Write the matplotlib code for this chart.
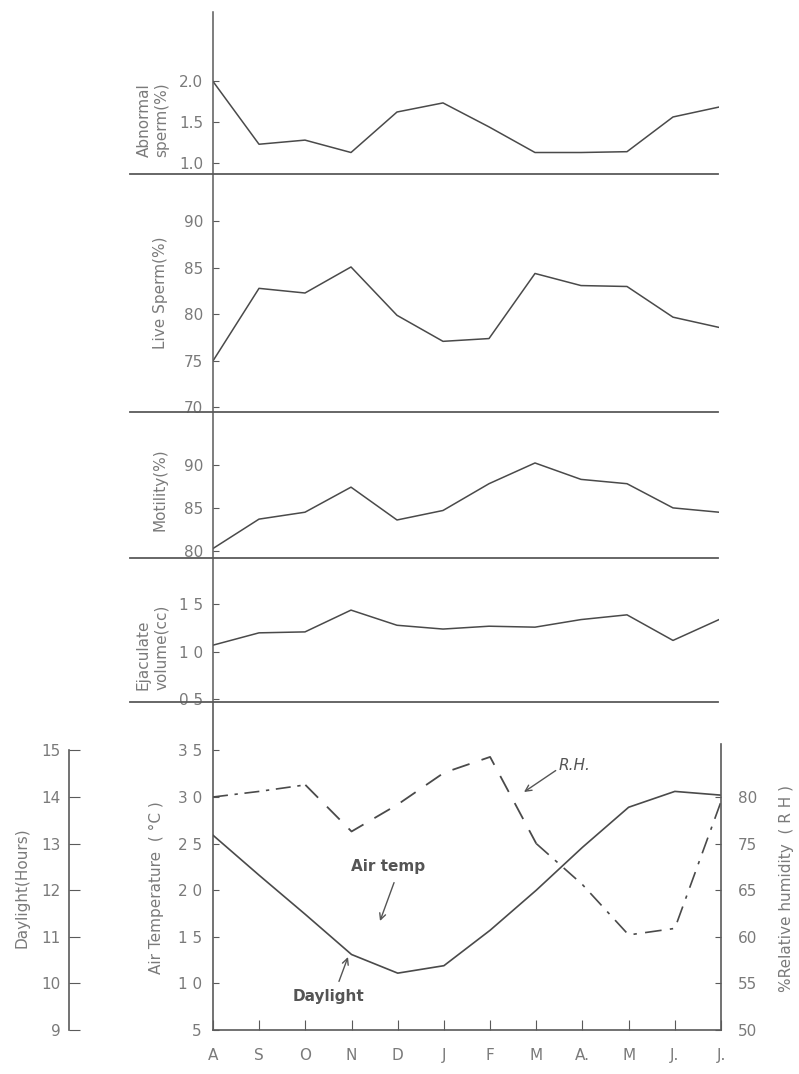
import matplotlib
matplotlib.use('Agg')
import matplotlib.pyplot as plt

# ---------------- data ----------------
months = ['A', 'S', 'O', 'N', 'D', 'J', 'F', 'M', 'A.', 'M', 'J.', 'J.']
abnormal_sperm = [1.99, 1.23, 1.28, 1.13, 1.62, 1.73, 1.44, 1.13, 1.13, 1.14, 1.56, 1.68]
live_sperm = [75.0, 82.8, 82.3, 85.1, 79.9, 77.1, 77.4, 84.4, 83.1, 83.0, 79.7, 78.6]
motility = [80.3, 83.7, 84.5, 87.4, 83.6, 84.7, 87.8, 90.2, 88.3, 87.8, 85.0, 84.5]
ejaculate_volume = [1.07, 1.20, 1.21, 1.44, 1.28, 1.24, 1.27, 1.26, 1.34, 1.39, 1.12, 1.34]
daylight_hours = [13.18, 12.32, 11.48, 10.62, 10.22, 10.38, 11.14, 12.0, 12.92, 13.78, 14.12, 14.04]
# relative humidity in the units of the printed RH scale (evenly spaced ticks)
rel_humidity = [75.0, 75.6, 76.3, 71.3, 74.2, 77.6, 79.3, 70.0, 65.6, 60.2, 60.9, 74.5]

temp_ticks = [5, 10, 15, 20, 25, 30, 35]
temp_labels = ['5', '1 0', '1 5', '2 0', '2 5', '3 0', '3 5']
day_ticks = [9, 10, 11, 12, 13, 14, 15]
rh_ticks = [50, 55, 60, 65, 70, 75]
rh_labels = ['50', '55', '60', '65', '75', '80']

# ---------------- style ----------------
W, H = 799, 1074
LINE = '#4a4a4a'
AX = '#5a5a5a'
TEXT = '#7a7a7a'
FS = 11
plt.rcParams['font.family'] = ['DejaVu Sans']

fig = plt.figure(figsize=(W / 100, H / 100), dpi=100)
fig.patch.set_facecolor('white')

X_LEFT, X_RIGHT = 213, 719


def box(top, bottom, left=X_LEFT, right=X_RIGHT):
    return [left / W, 1 - bottom / H, (right - left) / W, (bottom - top) / H]


def fpx(x, y):
    return (x / W, 1 - y / H)


xs = list(range(len(months)))

panels = [
    # top, bottom, values, ylim, ticks, labels
    (12, 174, abnormal_sperm, (0.87, 2.83), [1.0, 1.5, 2.0], ['1.0', '1.5', '2.0']),
    (174, 412, live_sperm, (69.5, 95.1), [70, 75, 80, 85, 90], ['70', '75', '80', '85', '90']),
    (412, 558, motility, (79.2, 96.1), [80, 85, 90], ['80', '85', '90']),
    (558, 702, ejaculate_volume, (0.47, 1.99), [0.5, 1.0, 1.5], ['0 5', '1 0', '1 5']),
]

for top, bottom, vals, ylim, ticks, labels in panels:
    ax = fig.add_axes(box(top, bottom))
    ax.patch.set_alpha(0)
    ax.plot(xs, vals, color=LINE, lw=1.1)
    ax.set_xlim(0, 11)
    ax.set_ylim(*ylim)
    for s in ['top', 'right', 'bottom']:
        ax.spines[s].set_visible(False)
    ax.spines['left'].set_color(AX)
    ax.spines['left'].set_linewidth(1.1)
    ax.set_xticks([])
    ax.set_yticks(ticks)
    ax.set_yticklabels(labels)
    ax.tick_params(axis='y', direction='in', length=4, color=AX, labelcolor=TEXT,
                   labelsize=FS, pad=7)
    ax.plot([-(X_LEFT - 130) / (X_RIGHT - X_LEFT), (718 - X_LEFT) / (X_RIGHT - X_LEFT)],
            [0, 0], transform=ax.transAxes, clip_on=False, color=AX, lw=1.3)

# ---------------- bottom panel ----------------
TOP5, BOT5 = 702, 1030
px_per_unit = (BOT5 - 797) / 25.0
t_top = 5 + (BOT5 - TOP5) / px_per_unit
ax5 = fig.add_axes(box(TOP5, BOT5, right=721))
ax5.patch.set_alpha(0)
ax5.set_xlim(0, 11)
ax5.set_ylim(5, t_top)
ax5.spines['top'].set_visible(False)
ax5.spines['right'].set_visible(False)
for s in ['left', 'bottom']:
    ax5.spines[s].set_color(AX)
    ax5.spines[s].set_linewidth(1.2)
ax5.set_yticks(temp_ticks)
ax5.set_yticklabels(temp_labels)
ax5.set_xticks(xs)
ax5.set_xticklabels(months)
ax5.tick_params(axis='y', direction='in', length=4, color=AX, labelcolor=TEXT, labelsize=FS, pad=8)
ax5.tick_params(axis='x', direction='in', length=7, color=AX, labelcolor=TEXT, labelsize=FS, pad=13)

# daylight axis (detached on the left)
axd = ax5.twinx()
axd.patch.set_alpha(0)
axd.set_ylim(9, 9 + (t_top - 5) * 0.2)
axd.plot(xs, daylight_hours, color=LINE, lw=1.2)
axd.spines['right'].set_visible(False)
axd.spines['top'].set_visible(False)
axd.spines['bottom'].set_visible(False)
axd.spines['left'].set_visible(True)
axd.spines['left'].set_position(('axes', -(X_LEFT - 69) / (721 - X_LEFT)))
axd.spines['left'].set_bounds(9, 15)
axd.spines['left'].set_color(AX)
axd.spines['left'].set_linewidth(1.2)
axd.yaxis.set_ticks_position('left')
axd.yaxis.set_label_position('left')
axd.set_yticks(day_ticks)
axd.set_yticklabels([str(t) for t in day_ticks])
axd.tick_params(axis='y', direction='in', length=8, color=AX, labelcolor=TEXT, labelsize=FS, pad=6)

# relative humidity axis (right)
axr = ax5.twinx()
axr.patch.set_alpha(0)
axr.set_ylim(50, 50 + (t_top - 5))
axr.plot(xs[:3], rel_humidity[:3], color=LINE, lw=1.2, dashes=[9, 4, 2, 4])
axr.plot(xs[2:8], rel_humidity[2:8], color=LINE, lw=1.3, dashes=[10, 7])
axr.plot(xs[7:], rel_humidity[7:], color=LINE, lw=1.2, dashes=[10, 5, 2, 5])
for s in ['top', 'left', 'bottom']:
    axr.spines[s].set_visible(False)
axr.spines['right'].set_color(AX)
axr.spines['right'].set_linewidth(1.2)
axr.spines['right'].set_bounds(50, 80.7)
axr.set_yticks(rh_ticks)
axr.set_yticklabels(rh_labels)
axr.tick_params(axis='y', direction='in', length=4, color=AX, labelcolor=TEXT, labelsize=FS, pad=12)

# ---------------- axis titles ----------------
tkw = dict(rotation=90, color=TEXT, fontsize=FS, ha='center')
fig.text(*fpx(144, 157), 'Abnormal', va='bottom', **tkw)
fig.text(*fpx(162, 157), 'sperm(%)', va='bottom', **tkw)
fig.text(*fpx(160, 293), 'Live Sperm(%)', va='center', **tkw)
fig.text(*fpx(160, 490), 'Motility(%)', va='center', **tkw)
fig.text(*fpx(143, 690), 'Ejaculate', va='bottom', **tkw)
fig.text(*fpx(162, 690), 'volume(cc)', va='bottom', **tkw)
fig.text(*fpx(156, 888), 'Air Temperature  ( °C )', va='center', **tkw)
fig.text(*fpx(22, 888), 'Daylight(Hours)', va='center', **tkw)
fig.text(*fpx(786, 888), '%Relative humidity  ( R H )', va='center', **tkw)

# ---------------- annotations ----------------
akw = dict(xycoords='figure fraction', textcoords='figure fraction', color='#555555',
           fontsize=FS, arrowprops=dict(arrowstyle='->', color='#555555', lw=1.0,
                                        shrinkA=2, shrinkB=0))
fig.text(*fpx(388, 866), 'Air temp', ha='center', va='center', color='#555555',
         fontsize=FS, fontweight='bold')
ax5.annotate('', xy=fpx(380, 921), xytext=fpx(395, 880), **akw)
fig.text(*fpx(328, 996), 'Daylight', ha='center', va='center', color='#555555',
         fontsize=FS, fontweight='bold')
ax5.annotate('', xy=fpx(348, 957), xytext=fpx(338, 984), **akw)
fig.text(*fpx(575, 765), 'R.H.', ha='center', va='center', color='#555555',
         fontsize=FS, fontstyle='italic')
ax5.annotate('', xy=fpx(524, 792), xytext=fpx(558, 769), **akw)

fig.savefig('out.png', dpi=100, facecolor='white')
